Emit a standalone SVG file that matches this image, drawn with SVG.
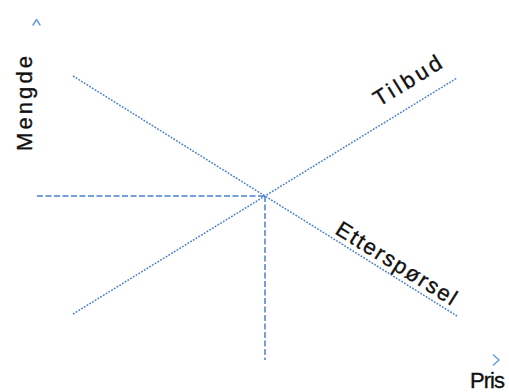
<svg xmlns="http://www.w3.org/2000/svg" width="509" height="392" viewBox="0 0 509 392">
  <style>
    .curve { fill: none; stroke: #4a7fcc; stroke-width: 1.5; stroke-dasharray: 1.8 1.4; }
    .guide { fill: none; stroke: #4a7fcc; stroke-width: 1.5; stroke-dasharray: 6 2.5; }
    .tip { fill: none; stroke: #6d9be0; stroke-width: 1.5; stroke-linecap: round; stroke-linejoin: round; }
    .label { font-family: "Liberation Sans", Arial, sans-serif; font-size: 22px; fill: #111; stroke: #111; stroke-width: 0.35; }
  </style>
  <rect width="509" height="392" fill="#ffffff"/>

  <!-- axis tips -->
  <g id="axis-y">
    <polyline class="tip" points="33,25 36.5,19.5 40,25"/>
    <text class="label" transform="translate(32,151) rotate(-90)" textLength="95" lengthAdjust="spacing">Mengde</text>
  </g>
  <g id="axis-x">
    <polyline class="tip" points="493.5,355 499,360 493.5,365"/>
    <text class="label" x="470" y="388" font-size="19" textLength="35" lengthAdjust="spacing">Pris</text>
  </g>

  <!-- curves and guides -->
  <g id="connectors">
    <line class="curve" x1="73" y1="76" x2="457" y2="316"/>
    <line class="curve" x1="73" y1="314" x2="457" y2="78"/>
    <line class="guide" x1="37" y1="196" x2="265" y2="196"/>
    <line class="guide" x1="265" y1="196" x2="265" y2="360"/>
  </g>

  <g id="tilbud">
    <text class="label" transform="translate(379,107) rotate(-31.6)" textLength="76" lengthAdjust="spacing">Tilbud</text>
  </g>
  <g id="ettersporsel">
    <text class="label" transform="translate(334,233) rotate(32)" textLength="138" lengthAdjust="spacing">Etterspørsel</text>
  </g>
</svg>
